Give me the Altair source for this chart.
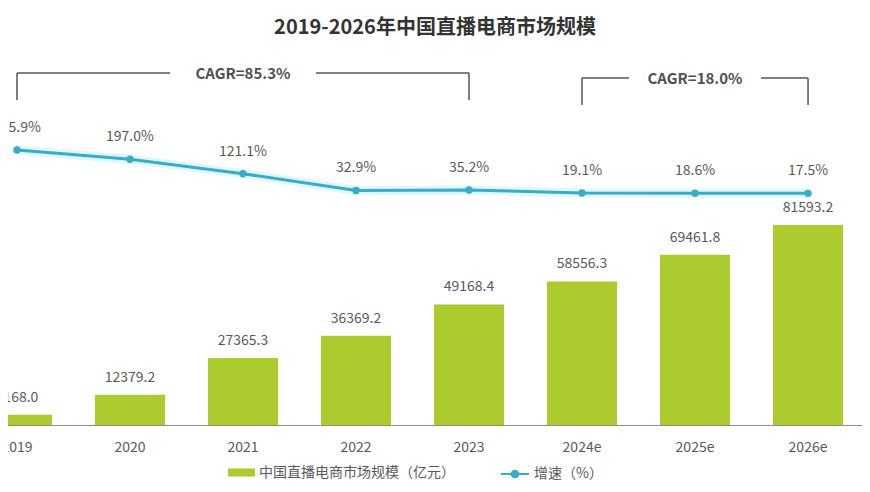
import altair as alt
import pandas as pd

# ---- data ----
years = ["2019", "2020", "2021", "2022", "2023", "2024e", "2025e", "2026e"]
market = [4168.0, 12379.2, 27365.3, 36369.2, 49168.4, 58556.3, 69461.8, 81593.2]
growth = [245.9, 197.0, 121.1, 32.9, 35.2, 19.1, 18.6, 17.5]
bar_series = "中国直播电商市场规模（亿元）"
line_series = "增速（%）"
title_text = "2019-2026年中国直播电商市场规模"
cagr_start = ["2019", "2024e"]
cagr_mid = ["2021", "2025e"]
cagr_end = ["2023", "2026e"]
cagr_labels = ["CAGR=85.3%", "CAGR=18.0%"]

# ---- style ----
GREEN = "#ACCB2E"
TEAL = "#38ADC6"
GLOW = "#6ED8EE"
TXT = "#595959"
FONT = "Noto Sans CJK SC"
W, H = 854, 377
BRACKET_Y = [25, 30]
BRACKET_GAP = [73, 66]

df = pd.DataFrame({
    "year": years,
    "market": market,
    "growth": growth,
    "mlabel": [f"{v:.1f}" for v in market],
    "glabel": [f"{g:.1f}%" for g in growth],
    "bar_series": bar_series,
    "line_series": line_series,
})

xscale = alt.Scale(domain=years, range=[-47.5, 856.5], paddingInner=0.3805, paddingOuter=0.19)
ybar = alt.Scale(domain=[0, 153815], nice=False, zero=True)
yline = alt.Scale(domain=[-1201.6, 782.6], nice=False, zero=False)

x_axis = alt.Axis(title=None, labelAngle=0, ticks=False, domainColor="#8c8c8c", domainWidth=1.2,
                  labelColor=TXT, labelFontSize=14, labelFont=FONT, labelPadding=15, grid=False)


def X(field):
    return alt.X(f"{field}:N", scale=xscale, axis=x_axis, sort=years)


bars = alt.Chart(df).mark_bar(clip=True).encode(
    x=X("year"),
    y=alt.Y("market:Q", scale=ybar, axis=None),
    color=alt.Color("bar_series:N", scale=alt.Scale(domain=[bar_series], range=[GREEN]),
                    legend=alt.Legend(title=None, orient="none", legendX=220, legendY=411,
                                      symbolType="M-1,-0.3H1V0.3H-1Z", symbolSize=729,
                                      symbolStrokeWidth=0, labelFontSize=14, labelColor=TXT,
                                      labelFont=FONT, labelLimit=400)),
)

bar_text = alt.Chart(df).mark_text(dy=-17, fontSize=14, color=TXT, font=FONT, clip=True).encode(
    x=X("year"),
    y=alt.Y("market:Q", scale=ybar, axis=None),
    text="mlabel:N",
)

glow = alt.Chart(df).mark_line(strokeWidth=9, opacity=0.22, color=GLOW).encode(
    x=X("year"),
    y=alt.Y("growth:Q", scale=yline, axis=None),
)

line = alt.Chart(df).mark_line(strokeWidth=3).encode(
    x=X("year"),
    y=alt.Y("growth:Q", scale=yline, axis=None),
    stroke=alt.Stroke("line_series:N", scale=alt.Scale(domain=[line_series], range=[TEAL]),
                      legend=alt.Legend(title=None, orient="none", legendX=492, legendY=411,
                                        symbolType="M-1,0L1,0M0.24,0A0.24,0.24,0,1,1,-0.24,0A0.24,0.24,0,1,1,0.24,0Z",
                                        symbolSize=784, symbolStrokeWidth=2, symbolFillColor=TEAL,
                                        labelFontSize=14, labelColor=TXT, labelFont=FONT,
                                        labelLimit=400)),
)

points = alt.Chart(df).mark_circle(size=55, color=TEAL, opacity=1).encode(
    x=X("year"),
    y=alt.Y("growth:Q", scale=yline, axis=None),
)

line_text = alt.Chart(df).mark_text(dy=-22, fontSize=14, color=TXT, font=FONT, clip=True).encode(
    x=X("year"),
    y=alt.Y("growth:Q", scale=yline, axis=None),
    text="glabel:N",
)

layers = [bars, bar_text, glow, line, points, line_text]

for i in range(len(cagr_labels)):
    sub = pd.DataFrame({"start": [cagr_start[i]], "mid": [cagr_mid[i]],
                        "end": [cagr_end[i]], "label": [cagr_labels[i]]})
    yb = BRACKET_Y[i]
    gap = BRACKET_GAP[i]
    base = alt.Chart(sub)
    rc = dict(color="#555555", strokeWidth=1.5)
    layers.append(base.mark_rule(x2Offset=-gap, **rc).encode(
        x=X("start"), x2="mid:N", y=alt.value(yb)))
    layers.append(base.mark_rule(xOffset=gap, **rc).encode(
        x=X("mid"), x2="end:N", y=alt.value(yb)))
    layers.append(base.mark_rule(**rc).encode(
        x=X("start"), y=alt.value(yb), y2=alt.value(yb + 27)))
    layers.append(base.mark_rule(**rc).encode(
        x=X("end"), y=alt.value(yb), y2=alt.value(yb + 27)))
    layers.append(base.mark_text(fontSize=15, fontWeight="bold", color="#505050", font=FONT).encode(
        x=X("mid"), y=alt.value(yb + 1), text="label:N"))

chart = alt.layer(*layers).resolve_scale(y="independent").properties(
    width=W, height=H,
    title=alt.TitleParams(title_text, fontSize=20, font=FONT, fontWeight="bold", color="#333333",
                          anchor="middle", frame="group", offset=10),
    autosize=alt.AutoSizeParams(type="none"),
    padding={"left": 0, "top": 40, "right": 0, "bottom": 60},
).configure_view(strokeWidth=0)

chart.save("out.html", embed_options={"renderer": "svg", "actions": False})
